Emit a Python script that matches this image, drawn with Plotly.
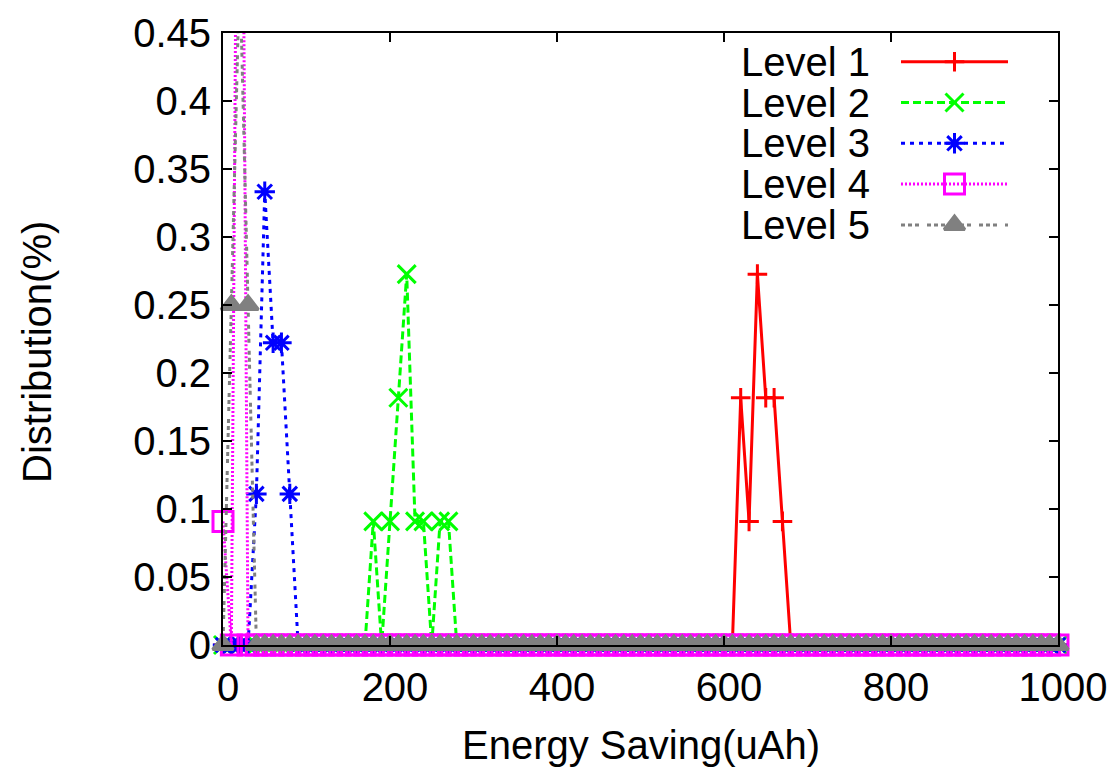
import plotly.graph_objects as go

# ---------------- data ----------------
# histogram bins (uAh), every 10 uAh from 0 to 1000
bins = list(range(0, 1001, 10))

# non-zero bins of each level (all other bins are 0)
level1_x = [620, 630, 640, 650, 660, 670]
level1_y = [0.1818, 0.0909, 0.2727, 0.1818, 0.1818, 0.0909]

level2_x = [180, 200, 210, 220, 230, 240, 260, 270]
level2_y = [0.0909, 0.0909, 0.1818, 0.2727, 0.0909, 0.0909, 0.0909, 0.0909]

level3_x = [40, 50, 60, 70, 80]
level3_y = [0.1111, 0.3333, 0.2222, 0.2222, 0.1111]

level4_x = [0, 20]
level4_y = [0.0909, 0.9091]

level5_x = [10, 20, 30]
level5_y = [0.25, 0.5, 0.25]

names = ["Level 1", "Level 2", "Level 3", "Level 4", "Level 5"]
x_ticks = [0, 200, 400, 600, 800, 1000]

# ---------------- styles ----------------
FONT = "Liberation Sans, Arial, sans-serif"
FS = 40
YMAX = 0.45
styles = [
    dict(color="#ff0000", dash="solid", symbol="cross-thin-open", size=14),
    dict(color="#00ff00", dash="8px,4px", symbol="x-thin-open", size=18),
    dict(color="#0000ff", dash="4px,5px", symbol="asterisk-open", size=17),
    dict(color="#ff00ff", dash="2px,2px", symbol="square-open", size=20),
    dict(color="#808080", dash="4px,3px,4px,3px,4px,8px", symbol="triangle-up", size=18),
]

levels = [(level1_x, level1_y), (level2_x, level2_y), (level3_x, level3_y),
          (level4_x, level4_y), (level5_x, level5_y)]

fig = go.Figure()
for (lx, ly), name, st in zip(levels, names, styles):
    lookup = dict(zip(lx, ly))
    ys = [lookup.get(b, 0.0) for b in bins]
    # line (clipped to plot area)
    fig.add_trace(go.Scatter(
        x=bins, y=ys, mode="lines", name=name, showlegend=False,
        line=dict(color=st["color"], width=3, dash=st["dash"]),
        cliponaxis=True, hoverinfo="skip"))
    # markers (only those within the visible y range, not clipped at borders)
    mx = [b for b, v in zip(bins, ys) if v <= YMAX]
    my = [v for v in ys if v <= YMAX]
    fig.add_trace(go.Scatter(
        x=mx, y=my, mode="markers", name=name, showlegend=False,
        marker=dict(symbol=st["symbol"], size=st["size"], color=st["color"],
                    line=dict(color=st["color"], width=3)),
        cliponaxis=False, hoverinfo="skip"))

# ---------------- custom gnuplot-like key (text left, sample right) ----------------
L, R, T, B = 223, 54, 33, 122
W, H = 1112, 767
pw, ph = W - L - R, H - T - B
def px2x(px):
    return (px - L) / pw
def py2y(py):
    return (T + ph - py) / ph

key_top, key_step = 61.7, 40.8
key_line_x0, key_line_x1, key_mark_x, key_text_x = 901, 1008, 954.5, 872
for i, (name, st) in enumerate(zip(names, styles)):
    yy = py2y(key_top + i * key_step)
    fig.add_trace(go.Scatter(
        x=[px2x(key_line_x0), px2x(key_line_x1)], y=[yy, yy], mode="lines",
        xaxis="x2", yaxis="y2", showlegend=False, hoverinfo="skip",
        line=dict(color=st["color"], width=3, dash=st["dash"])))
    fig.add_trace(go.Scatter(
        x=[px2x(key_mark_x)], y=[yy], mode="markers",
        xaxis="x2", yaxis="y2", showlegend=False, hoverinfo="skip",
        marker=dict(symbol=st["symbol"], size=st["size"], color=st["color"],
                    line=dict(color=st["color"], width=3))))
    fig.add_annotation(x=px2x(key_text_x), y=yy, xref="paper", yref="paper",
                       text=name, showarrow=False, xanchor="right", yanchor="middle",
                       font=dict(family=FONT, size=FS, color="black"))

# axis titles
fig.add_annotation(x=0.5, y=py2y(745), xref="paper", yref="paper",
                   text="Energy Saving(uAh)", showarrow=False,
                   xanchor="center", yanchor="middle",
                   font=dict(family=FONT, size=FS, color="black"))
fig.add_annotation(x=px2x(37), y=py2y(352), xref="paper", yref="paper",
                   text="Distribution(%)", showarrow=False, textangle=-90,
                   xanchor="center", yanchor="middle",
                   font=dict(family=FONT, size=FS, color="black"))

axis_common = dict(showline=True, linecolor="black", linewidth=2, mirror="ticks",
                   ticks="inside", ticklen=9, tickwidth=1.5, tickcolor="black",
                   showgrid=False, zeroline=False, automargin=False,
                   tickfont=dict(family=FONT, size=FS, color="black"))
fig.update_layout(
    width=W, height=H,
    margin=dict(l=L, r=R, t=T, b=B, autoexpand=False),
    paper_bgcolor="white", plot_bgcolor="white",
    showlegend=False,
    xaxis=dict(range=[0, 1000], tickvals=x_ticks, ticklabelstandoff=6,
               ticklabelshift=5, **axis_common),
    yaxis=dict(range=[0, YMAX], tick0=0, dtick=0.05, ticklabelstandoff=2,
               **axis_common),
    xaxis2=dict(range=[0, 1], overlaying="x", visible=False, fixedrange=True,
                automargin=False),
    yaxis2=dict(range=[0, 1], overlaying="y", visible=False, fixedrange=True,
                automargin=False),
)

fig.write_html("out.html", config={"displayModeBar": False},
               post_script="document.body.style.margin='0px';document.body.style.overflow='hidden';")
